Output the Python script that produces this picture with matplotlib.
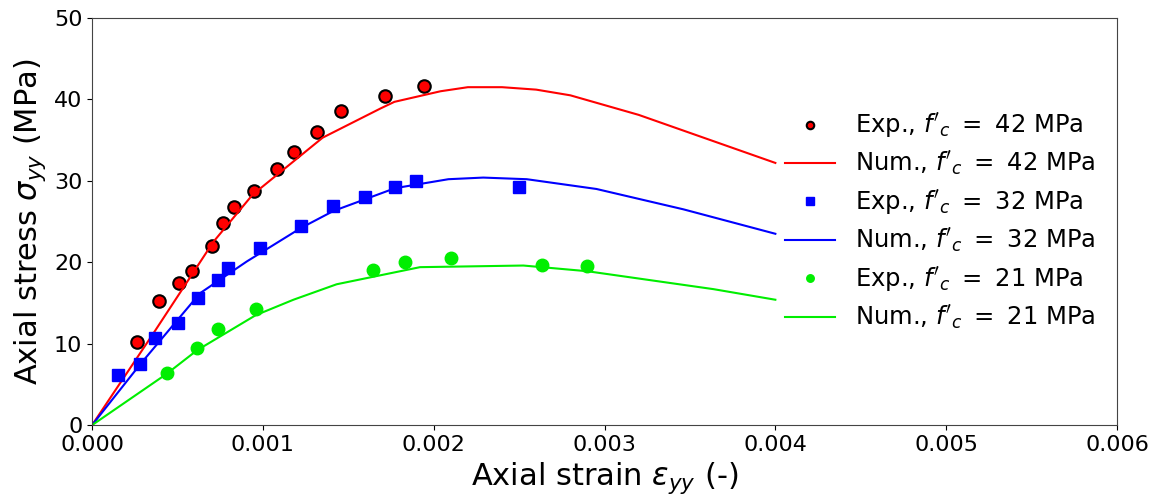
import numpy as np
import matplotlib
matplotlib.use('Agg')
import matplotlib.pyplot as plt

exp42_x = [0.000265, 0.000394, 0.000509, 0.000587, 0.000701, 0.000765, 0.000831,
           0.000946, 0.00108, 0.001185, 0.001315, 0.00146, 0.001715, 0.001944]
exp42_y = [10.2, 15.3, 17.5, 18.9, 22.0, 24.8, 26.8, 28.7, 31.4, 33.5, 36.0, 38.6, 40.4, 41.6]

exp32_x = [0.00015, 0.000283, 0.000369, 0.000502, 0.000622, 0.000738, 0.000794,
           0.000986, 0.001222, 0.001413, 0.0016, 0.001774, 0.001897, 0.002498]
exp32_y = [6.1, 7.5, 10.7, 12.6, 15.6, 17.8, 19.3, 21.8, 24.4, 26.9, 28.0, 29.3, 30.0, 29.2]

exp21_x = [0.000437, 0.000615, 0.00074, 0.000958, 0.001643, 0.001834, 0.0021, 0.002633, 0.0029]
exp21_y = [6.4, 9.5, 11.8, 14.3, 19.1, 20.0, 20.5, 19.7, 19.5]

# Numerical curves
num42_x = [0.0, 0.00036, 0.00071, 0.00094, 0.00135, 0.00169, 0.00177, 0.00204,
           0.0022, 0.0024, 0.0026, 0.0028, 0.0032, 0.004]
num42_y = [0.0, 11.3, 22.5, 28.3, 35.3, 38.9, 39.7, 41.0, 41.5, 41.5, 41.2, 40.5, 38.1, 32.2]

num32_x = [0.0, 0.000283, 0.000632, 0.000906, 0.001222, 0.001413, 0.001774, 0.002086,
           0.00229, 0.002545, 0.002953, 0.003462, 0.004]
num32_y = [0.0, 7.5, 16.2, 20.1, 24.2, 26.3, 29.1, 30.2, 30.4, 30.2, 29.0, 26.5, 23.5]

num21_x = [0.0, 0.000437, 0.000615, 0.000958, 0.001179, 0.001432, 0.00192, 0.002525,
           0.0029, 0.003638, 0.004]
num21_y = [0.0, 6.3, 9.2, 13.5, 15.4, 17.3, 19.4, 19.6, 18.9, 16.7, 15.4]

fig = plt.figure(figsize=(11.65, 4.99), dpi=100)
ax = fig.add_axes([0.079, 0.148, 0.8798, 0.816])

ax.plot(exp42_x, exp42_y, 'o', color='red', markeredgecolor='black', markeredgewidth=1.5,
        markersize=9, label=r"Exp., $f'_c\ =\ 42$ MPa")
ax.plot(num42_x, num42_y, '-', color='red', linewidth=1.5, label=r"Num., $f'_c\ =\ 42$ MPa")
ax.plot(exp32_x, exp32_y, 's', color='blue', markersize=8.5, label=r"Exp., $f'_c\ =\ 32$ MPa")
ax.plot(num32_x, num32_y, '-', color='blue', linewidth=1.5, label=r"Num., $f'_c\ =\ 32$ MPa")
ax.plot(exp21_x, exp21_y, 'o', color='#00ee00', markersize=9, label=r"Exp., $f'_c\ =\ 21$ MPa")
ax.plot(num21_x, num21_y, '-', color='#00ee00', linewidth=1.5, label=r"Num., $f'_c\ =\ 21$ MPa")

ax.set_xlim(0, 0.006)
ax.set_ylim(0, 50)
ax.set_xticks([0, 0.001, 0.002, 0.003, 0.004, 0.005, 0.006])
ax.set_xticklabels(['0.000', '0.001', '0.002', '0.003', '0.004', '0.005', '0.006'])
ax.tick_params(labelsize=16)
ax.set_xlabel(r'Axial strain $\varepsilon_{yy}$ (-)', fontsize=22)
ax.set_ylabel(r'Axial stress $\sigma_{yy}$ (MPa)', fontsize=22)
for s in ax.spines.values():
    s.set_color('#444444')

ax.legend(loc='center right', bbox_to_anchor=(1.0, 0.5), frameon=False, fontsize=17.5,
          markerscale=0.6, handlelength=2.05, labelspacing=0.4)

fig.savefig('out.png', dpi=100)
